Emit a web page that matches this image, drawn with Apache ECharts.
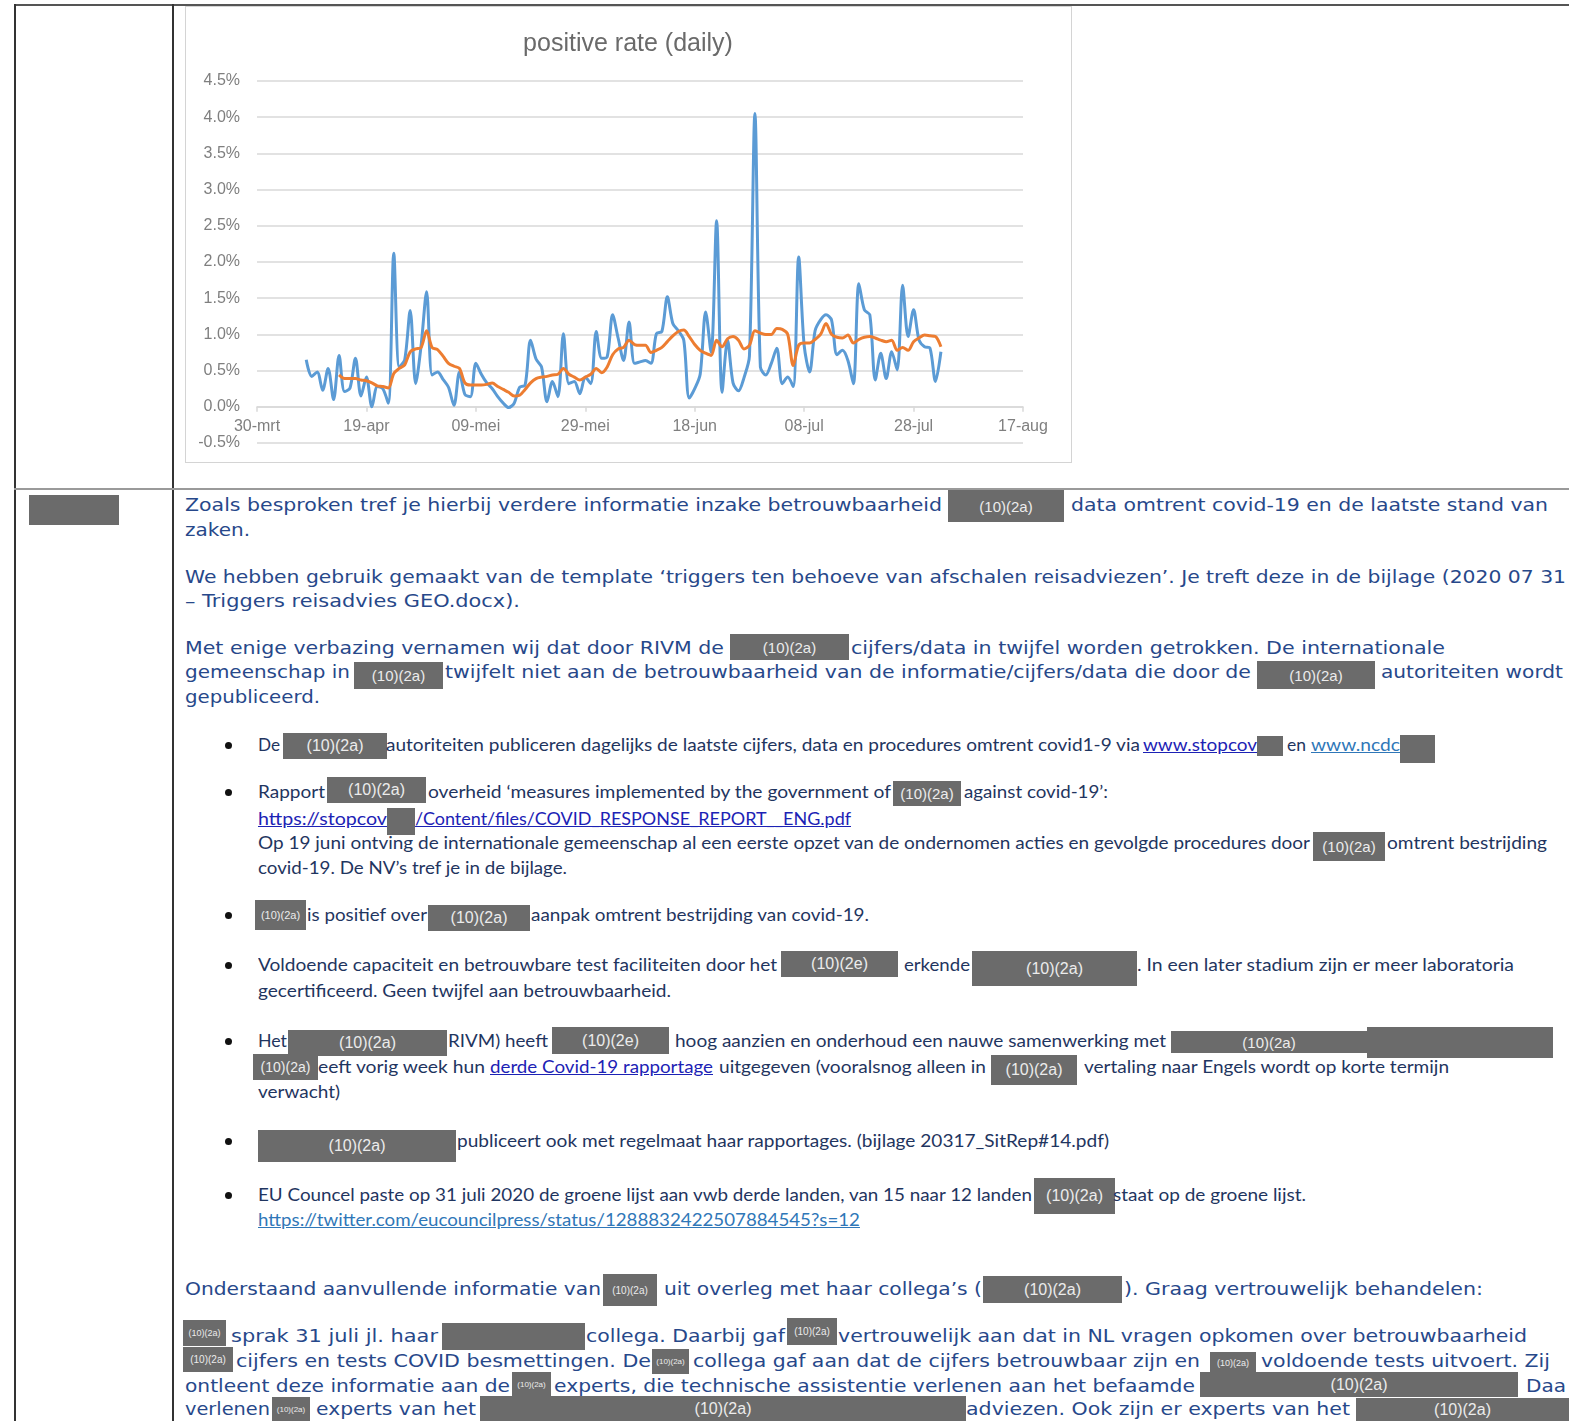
<!DOCTYPE html>
<html>
<head>
<meta charset="utf-8">
<script src="https://cdn.jsdelivr.net/npm/echarts@6/dist/echarts.min.js"></script>
<style>
  html, body { margin: 0; padding: 0; background: #fff; }
  body { width: 1569px; height: 1421px; position: relative; overflow: hidden; }
  .rule { position: absolute; }
  #frame { position: absolute; left: 185px; top: 6px; width: 885px; height: 455px; border: 1px solid #d4d4d4; }
  #chart { position: absolute; left: 186px; top: 7px; width: 884px; height: 454px; }
  .seg { position: absolute; white-space: nowrap; transform-origin: 0 50%; line-height: 24px; }
  .v { font-family: "DejaVu Sans", Verdana, sans-serif; font-size: 17px; color: #27488a; }
  .c { font-family: Lato, "Open Sans", sans-serif; font-size: 17px; color: #1f3560; }
  .box { position: absolute; background: #6b6b6b; color: #ececec; font-family: "Liberation Sans", Arial, sans-serif;
         display: flex; align-items: center; justify-content: center; overflow: hidden; white-space: nowrap; }
  .dot { position: absolute; width: 7px; height: 7px; border-radius: 50%; background: #111; }
</style>
</head>
<body>
<div id="frame"></div>
<div id="chart"></div>
<script>
// x axis: days after 30-mrt, one label every 20 days
const xTickLabels = ["30-mrt", "19-apr", "09-mei", "29-mei", "18-jun", "08-jul", "28-jul", "17-aug"];

// daily positive rate (%), first point 9 days after 30-mrt
const dailyStart = 9;
const dailyRate = [
  0.65, 0.42, 0.48, 0.23, 0.53, 0.10, 0.71, 0.21, 0.26, 0.67,
  0.15, 0.41, 0.00, 0.28, 0.25, 0.05, 2.12, 0.55, 0.65, 1.33,
  0.32, 0.85, 1.59, 0.44, 0.48, 0.38, 0.27, 0.02, 0.48, 0.17,
  0.14, 0.60, 0.45, 0.33, 0.25, 0.14, 0.05, -0.01, 0.05, 0.27,
  0.30, 0.92, 0.66, 0.55, 0.07, 0.35, 0.14, 1.01, 0.32, 0.35,
  0.18, 0.41, 0.32, 1.04, 0.67, 0.69, 1.27, 0.95, 0.64, 1.17,
  0.60, 0.62, 0.64, 0.60, 1.01, 1.04, 1.52, 1.15, 1.05, 0.92,
  0.12, 0.25, 0.45, 1.31, 0.75, 2.57, 0.20, 0.92, 0.33, 0.22,
  0.40, 0.70, 4.05, 0.55, 0.44, 0.60, 0.81, 0.32, 0.41, 0.28,
  2.07, 0.85, 0.48, 1.05, 1.20, 1.27, 1.20, 0.72, 0.78, 0.64,
  0.32, 1.70, 1.34, 1.27, 0.37, 0.74, 0.39, 0.76, 0.51, 1.68,
  0.97, 1.34, 0.92, 0.83, 0.81, 0.35, 0.76
];

// rolling average (%), first point 15 days after 30-mrt
const avgStart = 15;
const avgRate = [
  0.44, 0.39, 0.39, 0.39, 0.37, 0.36, 0.33, 0.29, 0.28, 0.26,
  0.46, 0.53, 0.58, 0.76, 0.80, 0.82, 1.05, 0.82, 0.79, 0.70,
  0.60, 0.56, 0.53, 0.33, 0.30, 0.30, 0.30, 0.31, 0.33, 0.28,
  0.24, 0.20, 0.15, 0.16, 0.24, 0.33, 0.39, 0.41, 0.42, 0.44,
  0.45, 0.53, 0.45, 0.41, 0.37, 0.41, 0.45, 0.53, 0.47, 0.55,
  0.72, 0.80, 0.82, 0.92, 0.86, 0.85, 0.85, 0.75, 0.78, 0.82,
  0.90, 0.98, 1.04, 1.06, 0.97, 0.86, 0.78, 0.74, 0.71, 0.92,
  0.83, 0.94, 0.97, 0.92, 0.80, 0.85, 1.05, 1.02, 1.00, 1.00,
  1.08, 1.07, 1.00, 0.57, 0.85, 0.88, 0.88, 0.93, 1.00, 1.15,
  1.00, 0.96, 0.95, 0.99, 0.88, 0.93, 0.96, 0.97, 0.95, 0.92,
  0.90, 0.92, 0.78, 0.82, 0.78, 0.90, 0.95, 0.99, 0.98, 0.97,
  0.83
];

const toPoints = (start, values) => values.map((v, i) => [start + i, v]);

const chart = echarts.init(document.getElementById("chart"));
chart.setOption({
  animation: false,
  title: {
    text: "positive rate (daily)",
    left: "center",
    top: 20,
    textStyle: {fontFamily: "Liberation Sans", fontSize: 25, fontWeight: "normal", color: "#6a6a6a"},
  },
  grid: {left: 71, top: 74, width: 766, height: 362, outerBoundsMode: "none"},
  xAxis: {
    type: "value",
    min: 0,
    max: 140,
    interval: 20,
    axisLine: {onZero: true, lineStyle: {color: "#d9d9d9", width: 1.5}},
    axisTick: {show: true, length: 5, lineStyle: {color: "#d9d9d9", width: 1.5}},
    axisLabel: {
      margin: -24, fontSize: 16, fontFamily: "Liberation Sans", color: "#7f7f7f",
      formatter: v => xTickLabels[Math.round(v / 20)],
    },
    splitLine: {show: false},
  },
  yAxis: {
    type: "value",
    min: -0.5,
    max: 4.5,
    interval: 0.5,
    axisLine: {show: false},
    axisTick: {show: false},
    axisLabel: {
      margin: 17, fontSize: 16, fontFamily: "Liberation Sans", color: "#7f7f7f",
      formatter: v => v.toFixed(1) + "%",
    },
    splitLine: {lineStyle: {color: "#d9d9d9", width: 1.5}},
  },
  series: [
    {type: "line", data: toPoints(dailyStart, dailyRate), symbol: "none", smooth: 0.3,
      lineStyle: {color: "#5b9bd5", width: 3}},
    {type: "line", data: toPoints(avgStart, avgRate), symbol: "none", smooth: 0.3,
      lineStyle: {color: "#ed7d31", width: 3}},
  ],
});

// ---- surrounding document (table rules, text, redactions) ----
const body = document.body;

function rule(x, y, w, h, color) {
  const d = document.createElement("div");
  d.className = "rule";
  Object.assign(d.style, {left: x + "px", top: y + "px", width: w + "px", height: h + "px", background: color});
  body.appendChild(d);
}
rule(14, 4, 1555, 2, "#555");
rule(14, 4, 2, 1417, "#333");
rule(172, 4, 2, 1417, "#333");
rule(14, 488, 1555, 2, "#9a9a9a");

function box(x0, x1, y0, y1, label, fs) {
  const d = document.createElement("div");
  d.className = "box";
  Object.assign(d.style, {left: x0 + "px", top: y0 + "px", width: (x1 - x0) + "px", height: (y1 - y0) + "px",
    fontSize: (fs || 15) + "px"});
  d.textContent = label || "";
  body.appendChild(d);
}

function text(cls, cy, x0, x1, s, color, underline) {
  const d = document.createElement("div");
  d.className = "seg " + cls;
  d.style.left = x0 + "px";
  d.style.top = (cy - 12) + "px";
  if (color) d.style.color = color;
  if (underline) d.style.textDecoration = "underline";
  d.textContent = s;
  body.appendChild(d);
  const w = d.getBoundingClientRect().width;
  if (w > 0) d.style.transform = "scaleX(" + ((x1 - x0) / w).toFixed(4) + ")";
}

const LINK = "#1c22b5", LINK2 = "#2f77b8";
const R = "(10)(2a)", E = "(10)(2e)";

// each line: [fontClass, centerY, segments]; text seg = [x0, x1, str, color, underline]; box seg = ["#", x0, x1, y0, y1, label, size]
const lines = [
  ["v", 505, [[185, 942, "Zoals besproken tref je hierbij verdere informatie inzake betrouwbaarheid"],
    ["#", 948, 1064, 490, 522, R, 15], [1071, 1548, "data omtrent covid-19 en de laatste stand van"]]],
  ["v", 530, [[185, 250, "zaken."]]],
  ["v", 577, [[185, 1566, "We hebben gebruik gemaakt van de template \u2018triggers ten behoeve van afschalen reisadviezen\u2019. Je treft deze in de bijlage (2020 07 31"]]],
  ["v", 601, [[185, 520, "\u2013 Triggers reisadvies GEO.docx)."]]],
  ["v", 648, [[185, 724, "Met enige verbazing vernamen wij dat door RIVM de"], ["#", 730, 849, 634, 660, R, 15],
    [851, 1445, "cijfers/data in twijfel worden getrokken. De internationale"]]],
  ["v", 672, [[185, 350, "gemeenschap in"], ["#", 354, 443, 662, 689, R, 15],
    [445, 1251, "twijfelt niet aan de betrouwbaarheid van de informatie/cijfers/data die door de"],
    ["#", 1257, 1375, 661, 689, R, 15], [1381, 1563, "autoriteiten wordt"]]],
  ["v", 697, [[185, 320, "gepubliceerd."]]],

  ["c", 745, [[258, 280, "De"], ["#", 283, 387, 733, 759, R, 16],
    [386, 1140, "autoriteiten publiceren dagelijks de laatste cijfers, data en procedures omtrent covid1-9 via"],
    [1143, 1257, "www.stopcov", LINK, true], ["#", 1257, 1283, 736, 756, ""], [1287, 1306, "en"],
    [1311, 1400, "www.ncdc", LINK2, true], ["#", 1400, 1435, 735, 763, ""]]],
  ["c", 792, [[258, 325, "Rapport"], ["#", 327, 426, 777, 803, R, 16],
    [428, 891, "overheid \u2018measures implemented by the government of"], ["#", 893, 961, 781, 806, R, 15],
    [964, 1108, "against covid-19\u2019:"]]],
  ["c", 819, [[258, 387, "https://stopcov", LINK, true], ["#", 387, 415, 808, 835, ""],
    [415, 851, "/Content/files/COVID_RESPONSE_REPORT__ENG.pdf", LINK, true]]],
  ["c", 843, [[258, 1310, "Op 19 juni ontving de internationale gemeenschap al een eerste opzet van de ondernomen acties en gevolgde procedures door"],
    ["#", 1313, 1385, 832, 861, R, 15], [1387, 1547, "omtrent bestrijding"]]],
  ["c", 868, [[258, 567, "covid-19. De NV\u2019s tref je in de bijlage."]]],
  ["c", 915, [["#", 255, 306, 900, 930, R, 11], [307, 427, "is positief over"], ["#", 428, 530, 905, 931, R, 16],
    [531, 869, "aanpak omtrent bestrijding van covid-19."]]],
  ["c", 965, [[258, 777, "Voldoende capaciteit en betrouwbare test faciliteiten door het"], ["#", 781, 898, 951, 977, E, 16],
    [904, 970, "erkende"], ["#", 972, 1137, 951, 986, R, 16], [1137, 1514, ". In een later stadium zijn er meer laboratoria"]]],
  ["c", 991, [[258, 671, "gecertificeerd. Geen twijfel aan betrouwbaarheid."]]],
  ["c", 1041, [[258, 287, "Het"], ["#", 288, 447, 1030, 1056, R, 16], [448, 548, "RIVM) heeft"],
    ["#", 552, 669, 1027, 1054, E, 16], [675, 1166, "hoog aanzien en onderhoud een nauwe samenwerking met"],
    ["#", 1171, 1367, 1031, 1053, R, 15], ["#", 1367, 1553, 1027, 1058, ""]]],
  ["c", 1067, [["#", 253, 318, 1054, 1080, R, 14], [318, 485, "eeft vorig week hun"],
    [490, 713, "derde Covid-19 rapportage", LINK, true], [719, 986, "uitgegeven (vooralsnog alleen in"],
    ["#", 991, 1077, 1055, 1085, R, 16], [1084, 1449, "vertaling naar Engels wordt op korte termijn"]]],
  ["c", 1092, [[258, 340, "verwacht)"]]],
  ["c", 1141, [["#", 258, 456, 1130, 1162, R, 16],
    [457, 1109, "publiceert ook met regelmaat haar rapportages. (bijlage 20317_SitRep#14.pdf)"]]],
  ["c", 1195, [[258, 1032, "EU Councel paste op 31 juli 2020 de groene lijst aan vwb derde landen, van 15 naar 12 landen"],
    ["#", 1034, 1115, 1178, 1214, R, 16], [1113, 1306, "staat op de groene lijst."]]],
  ["c", 1220, [[258, 860, "https://twitter.com/eucouncilpress/status/1288832422507884545?s=12", LINK2, true]]],

  ["v", 1289, [[185, 601, "Onderstaand aanvullende informatie van"], ["#", 603, 657, 1274, 1306, R, 10],
    [664, 982, "uit overleg met haar collega\u2019s ("], ["#", 983, 1122, 1276, 1303, R, 16],
    [1124, 1483, "). Graag vertrouwelijk behandelen:"]]],
  ["v", 1336, [["#", 183, 226, 1320, 1346, R, 9], [231, 438, "sprak 31 juli jl. haar"], ["#", 442, 585, 1323, 1350, ""],
    [586, 785, "collega. Daarbij gaf"], ["#", 787, 837, 1318, 1345, R, 10],
    [838, 1527, "vertrouwelijk aan dat in NL vragen opkomen over betrouwbaarheid"]]],
  ["v", 1361, [["#", 183, 233, 1347, 1372, R, 10], [236, 651, "cijfers en tests COVID besmettingen. De"],
    ["#", 652, 689, 1349, 1374, R, 8], [693, 1200, "collega gaf aan dat de cijfers betrouwbaar zijn en"],
    ["#", 1210, 1256, 1352, 1374, R, 9], [1261, 1550, "voldoende tests uitvoert. Zij"]]],
  ["v", 1386, [[185, 510, "ontleent deze informatie aan de"], ["#", 512, 551, 1372, 1397, R, 8],
    [554, 1195, "experts, die technische assistentie verlenen aan het befaamde"], ["#", 1200, 1518, 1372, 1397, R, 16],
    [1526, 1566, "Daa"]]],
  ["v", 1409, [[185, 270, "verlenen"], ["#", 272, 310, 1397, 1421, R, 8], [316, 476, "experts van het"],
    ["#", 480, 966, 1396, 1421, R, 16], [966, 1350, "adviezen. Ook zijn er experts van het"],
    ["#", 1356, 1569, 1398, 1421, R, 16]]],
];

lines.forEach(([cls, cy, segs]) => {
  segs.forEach(s => {
    if (s[0] === "#") box(s[1], s[2], s[3], s[4], s[5], s[6]);
    else text(cls, cy, s[0], s[1], s[2], s[3], s[4]);
  });
});

// first column redaction
box(29, 119, 495, 525, "");

// bullet dots
[745, 792, 915, 965, 1041, 1141, 1195].forEach(y => {
  const d = document.createElement("div");
  d.className = "dot";
  d.style.left = "225px";
  d.style.top = (y - 3) + "px";
  body.appendChild(d);
});
</script>
</body>
</html>
